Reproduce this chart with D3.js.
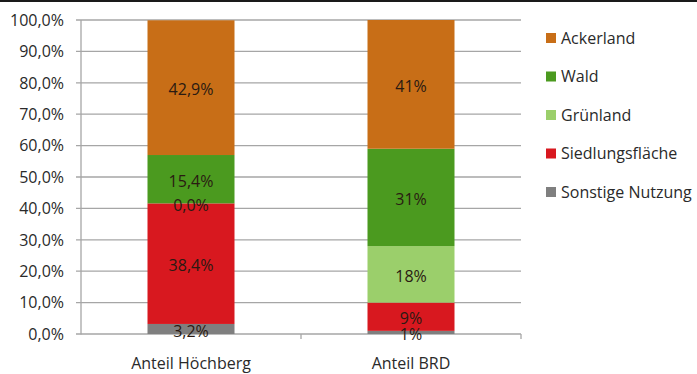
<!DOCTYPE html>
<html>
<head>
<meta charset="utf-8">
<script src="https://cdn.jsdelivr.net/npm/d3@7"></script>
<style>
  html, body { margin: 0; padding: 0; background: #fff; }
  svg { display: block; }
  text { font-family: "Open Sans", "Noto Sans", sans-serif; }
</style>
</head>
<body>
<svg id="chart" width="697" height="374"></svg>
<script>
// Land use shares (percent), stacked bottom to top
const categories = ["Anteil Höchberg", "Anteil BRD"];
const seriesNames = ["Sonstige Nutzung", "Siedlungsfläche", "Grünland", "Wald", "Ackerland"];
const sonstige = [3.2, 1];
const siedlung = [38.4, 9];
const gruenland = [0.0, 18];
const wald = [15.4, 31];
const acker = [42.9, 41];
const valueLabels = [
  ["3,2%", "1%"],
  ["38,4%", "9%"],
  ["0,0%", "18%"],
  ["15,4%", "31%"],
  ["42,9%", "41%"]
];
const yTicks = [0, 10, 20, 30, 40, 50, 60, 70, 80, 90, 100];
const colors = ["#7f7f7f", "#d8181f", "#9bcf6b", "#4b9a1f", "#c86e17"];
const legendOrder = ["Ackerland", "Wald", "Grünland", "Siedlungsfläche", "Sonstige Nutzung"];

const svg = d3.select("#chart");

// top frame line
svg.append("rect").attr("x", 0).attr("y", 0).attr("width", 697).attr("height", 2).attr("fill", "#1a1a1a");

const plotLeft = 81, plotRight = 521, plotTop = 20, plotBottom = 334;

const x = d3.scaleBand().domain(categories).range([plotLeft, plotRight]).paddingInner(0).paddingOuter(0);
const y = d3.scaleLinear().domain([0, 100]).range([plotBottom, plotTop]);
const color = d3.scaleOrdinal().domain(seriesNames).range(colors);

// gridlines
svg.append("g").selectAll("line").data(yTicks).join("line")
  .attr("x1", plotLeft - 5).attr("x2", plotRight)
  .attr("y1", d => y(d)).attr("y2", d => y(d))
  .attr("stroke", "#a6a6a6").attr("stroke-width", 1.3);

// y axis line
svg.append("line").attr("x1", plotLeft).attr("x2", plotLeft).attr("y1", plotTop).attr("y2", plotBottom + 0.5)
  .attr("stroke", "#a6a6a6").attr("stroke-width", 1.3);

// y tick labels
svg.append("g").selectAll("text").data(yTicks).join("text")
  .attr("x", plotLeft - 17).attr("y", d => y(d)).attr("dy", "0.36em")
  .attr("text-anchor", "end").attr("font-size", 16).attr("fill", "#2a2a2a")
  .text(d => d3.format(".1f")(d).replace(".", ",") + "%");

// category separator ticks below the axis
const sepX = [plotLeft + x.bandwidth(), plotRight];
svg.append("g").selectAll("line").data(sepX).join("line")
  .attr("x1", d => d).attr("x2", d => d).attr("y1", plotBottom).attr("y2", plotBottom + 5)
  .attr("stroke", "#a6a6a6").attr("stroke-width", 1.3);

// stacked data
const rows = categories.map((c, i) => ({
  cat: c,
  "Sonstige Nutzung": sonstige[i],
  "Siedlungsfläche": siedlung[i],
  "Grünland": gruenland[i],
  "Wald": wald[i],
  "Ackerland": acker[i]
}));
const stacked = d3.stack().keys(seriesNames)(rows);

const barW = 87;
const layers = svg.append("g").selectAll("g").data(stacked).join("g")
  .attr("fill", d => color(d.key));
layers.selectAll("rect").data(d => d).join("rect")
  .attr("x", d => x(d.data.cat) + x.bandwidth() / 2 - barW / 2)
  .attr("width", barW)
  .attr("y", d => y(d[1]))
  .attr("height", d => y(d[0]) - y(d[1]));

// value labels
const labelG = svg.append("g");
stacked.forEach((layer, si) => {
  layer.forEach((d, ci) => {
    labelG.append("text")
      .attr("x", x(d.data.cat) + x.bandwidth() / 2)
      .attr("y", y((d[0] + d[1]) / 2) + 2)
      .attr("dy", "0.36em")
      .attr("text-anchor", "middle")
      .attr("font-size", 16)
      .attr("fill", "#2a1a12")
      .text(valueLabels[si][ci]);
  });
});

// category labels
svg.append("g").selectAll("text").data(categories).join("text")
  .attr("x", d => x(d) + x.bandwidth() / 2).attr("y", 363)
  .attr("dy", "0.36em").attr("text-anchor", "middle")
  .attr("font-size", 16).attr("fill", "#2a2a2a")
  .text(d => d);

// legend
const lg = svg.append("g").selectAll("g").data(legendOrder).join("g")
  .attr("transform", (d, i) => `translate(546, ${38 + i * 38.5})`);
lg.append("rect").attr("x", 0).attr("y", -5).attr("width", 10).attr("height", 10)
  .attr("fill", d => color(d));
lg.append("text").attr("x", 15).attr("y", 0).attr("dy", "0.36em")
  .attr("font-size", 16).attr("fill", "#2a2a2a").text(d => d);
</script>
</body>
</html>
